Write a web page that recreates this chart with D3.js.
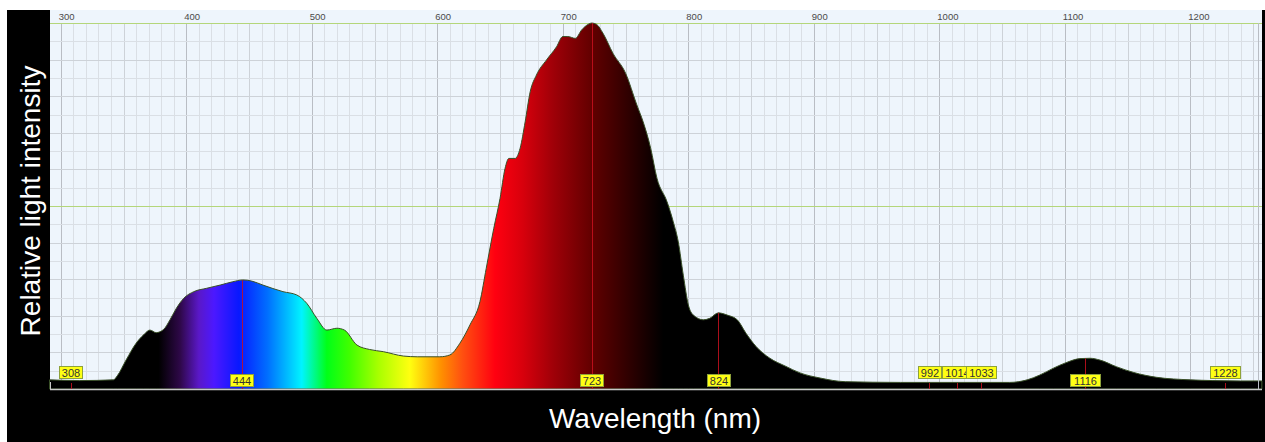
<!DOCTYPE html>
<html>
<head>
<meta charset="utf-8">
<script src="https://cdn.jsdelivr.net/npm/d3@7"></script>
<style>
  body { margin: 0; background: #fff; }
  svg { display: block; font-family: "Liberation Sans", Arial, sans-serif; }
</style>
</head>
<body>
<div id="chart"></div>
<script>
// spectrum: wavelength (nm) and relative intensity (0..1)
var wavelengths = [291, 315, 342, 345, 352, 360, 366, 371, 376, 382, 387, 392, 398, 406, 416, 427, 437, 445, 452, 461,
    477, 488, 496, 504, 512, 520, 526, 536, 546, 557, 573, 584, 602, 610, 618, 626, 634, 639, 645, 650,
    654, 657, 662, 666, 670, 674, 679, 687, 695, 700, 704, 710, 715, 720, 723, 727, 732, 740, 750, 759,
    764, 770, 775, 783, 788, 792, 796, 800, 804, 812, 817, 824, 831, 839, 846, 854, 865, 877, 889, 905,
    925, 969, 1056, 1070, 1080, 1091, 1101, 1112, 1120, 1128, 1141, 1155, 1173, 1200, 1218, 1240, 1257];
var intensity = [0.025, 0.023, 0.025, 0.036, 0.079, 0.125, 0.148, 0.161, 0.154, 0.163, 0.189, 0.220, 0.248, 0.266, 0.275, 0.284, 0.293, 0.298, 0.295, 0.284,
    0.266, 0.257, 0.234, 0.193, 0.161, 0.166, 0.161, 0.120, 0.108, 0.102, 0.090, 0.088, 0.088, 0.093, 0.125, 0.175, 0.239, 0.330, 0.439, 0.521,
    0.603, 0.630, 0.630, 0.658, 0.730, 0.812, 0.858, 0.899, 0.935, 0.963, 0.963, 0.958, 0.981, 0.996, 1.0, 0.996, 0.972, 0.917, 0.863, 0.776,
    0.730, 0.658, 0.576, 0.512, 0.457, 0.402, 0.311, 0.230, 0.202, 0.189, 0.193, 0.208, 0.202, 0.189, 0.152, 0.116, 0.084, 0.063, 0.044, 0.030,
    0.020, 0.018, 0.018, 0.025, 0.038, 0.057, 0.072, 0.083, 0.084, 0.079, 0.061, 0.045, 0.032, 0.025, 0.023, 0.022, 0.022];

var topTicks = [300, 400, 500, 600, 700, 800, 900, 1000, 1100, 1200];

// peak markers; "full" ones get a line up to the curve
var peaks = [308, 444, 723, 824, 992, 1014, 1033, 1116, 1228];
var peakFull = [false, true, true, true, false, false, false, true, false];

// colour of the fill along the wavelength
var stopNm = [378, 395, 410, 422, 442, 465, 492, 512, 530, 553, 578, 603, 620, 646, 668, 692, 724, 750, 768, 780];
var stopColor = ["#000000", "#2e0848", "#5a18c8", "#4c18ff", "#0818ff", "#0070ff", "#00f4ff", "#00ff18", "#40ff00", "#a8ff00",
    "#ffff10", "#ff9000", "#ff5010", "#ff0010", "#d8000c", "#a00008", "#600000", "#330000", "#140000", "#000000"];

var W = 1265, H = 442;
var plotLeft = 50, plotRight = 1262, plotTop = 10, plotBottom = 389;

var svg = d3.select("#chart").append("svg")
    .attr("width", W)
    .attr("height", H);

svg.append("rect").attr("width", W).attr("height", H).attr("fill", "#ffffff");
// black frame behind the plot
svg.append("rect")
    .attr("x", 7).attr("y", 10)
    .attr("width", W - 7).attr("height", H - 10)
    .attr("fill", "#000000");
svg.append("rect")
    .attr("x", plotLeft).attr("y", plotTop)
    .attr("width", plotRight - plotLeft).attr("height", plotBottom - plotTop)
    .attr("fill", "#eef5fc");

var x = d3.scaleLinear().domain([291.4, 1257.1]).range([plotLeft, plotRight]);
var y = d3.scaleLinear().domain([0, 1]).range([plotBottom, 23]);

// grid
var g = svg.append("g");
var minorX = d3.range(300, 1260, 10);
g.selectAll(".vx").data(minorX).enter().append("line")
    .attr("x1", function (d) { return Math.round(x(d)) + 0.5; })
    .attr("x2", function (d) { return Math.round(x(d)) + 0.5; })
    .attr("y1", 23).attr("y2", plotBottom)
    .attr("stroke", function (d) { return d % 100 == 0 ? "#b9bdc4" : (d % 50 == 0 ? "#cdd2d8" : "#dadfe5"); })
    .attr("stroke-width", 1);

var minorY = d3.range(0, 20).map(function (i) { return i * 0.05; });
g.selectAll(".hy").data(minorY).enter().append("line")
    .attr("x1", plotLeft).attr("x2", plotRight)
    .attr("y1", function (d) { return Math.round(y(d)) + 0.5; })
    .attr("y2", function (d) { return Math.round(y(d)) + 0.5; })
    .attr("stroke", function (d, i) { return i % 2 == 0 ? "#cdd2d8" : "#dadfe5"; });

// green reference lines at 0.5 and 1
g.selectAll(".gl").data([0.5, 1]).enter().append("line")
    .attr("x1", plotLeft).attr("x2", plotRight)
    .attr("y1", function (d) { return Math.round(y(d)) + 0.5; })
    .attr("y2", function (d) { return Math.round(y(d)) + 0.5; })
    .attr("stroke", "#b4d67a");

// top axis labels
svg.selectAll(".tt").data(topTicks).enter().append("text")
    .attr("x", function (d) { return x(d) - 2; })
    .attr("y", 20)
    .attr("font-size", 9.5)
    .attr("fill", "#4a4a4a")
    .text(function (d) { return d; });

// gradient fill of the spectrum
var grad = svg.append("defs").append("linearGradient")
    .attr("id", "spec")
    .attr("gradientUnits", "userSpaceOnUse")
    .attr("x1", x(stopNm[0])).attr("x2", x(stopNm[stopNm.length - 1]))
    .attr("y1", 0).attr("y2", 0);
var span = stopNm[stopNm.length - 1] - stopNm[0];
grad.selectAll("stop").data(stopNm).enter().append("stop")
    .attr("offset", function (d) { return (d - stopNm[0]) / span; })
    .attr("stop-color", function (d, i) { return stopColor[i]; });

var spec = wavelengths.map(function (d, i) { return { nm: d, v: intensity[i] }; });

svg.append("path")
    .datum(spec)
    .attr("fill", "url(#spec)")
    .attr("stroke", "#3a5028")
    .attr("stroke-width", 1)
    .attr("d", d3.area()
        .x(function (d) { return x(d.nm); })
        .y0(plotBottom)
        .y1(function (d) { return y(d.v); })
        .curve(d3.curveMonotoneX));

// axis frame lines
svg.append("line")
    .attr("x1", plotLeft).attr("x2", plotRight)
    .attr("y1", plotBottom + 0.5).attr("y2", plotBottom + 0.5)
    .attr("stroke", "#c8c8c8").attr("stroke-width", 1.5);
svg.append("line")
    .attr("x1", plotLeft + 0.5).attr("x2", plotLeft + 0.5)
    .attr("y1", 382).attr("y2", plotBottom + 1)
    .attr("stroke", "#c8c8c8");
svg.append("line")
    .attr("x1", 1258.5).attr("x2", 1258.5)
    .attr("y1", 23).attr("y2", plotBottom)
    .attr("stroke", "#b9bdc4");

// curve height at a wavelength, for the peak lines
var bis = d3.bisector(function (d) { return d.nm; }).left;
function valueAt(nm) {
    var i = bis(spec, nm);
    if (i <= 0) return spec[0].v;
    var a = spec[i - 1], b = spec[i];
    return a.v + (b.v - a.v) * (nm - a.nm) / (b.nm - a.nm);
}

var pk = svg.append("g");
peaks.forEach(function (p, i) {
    var px = Math.round(x(p)) + 0.5;
    pk.append("line")
        .attr("x1", px).attr("x2", px)
        .attr("y1", peakFull[i] ? y(valueAt(p)) : 383)
        .attr("y2", plotBottom)
        .attr("stroke", "#c8101e")
        .attr("stroke-opacity", 0.85);
});
peaks.forEach(function (p, i) {
    var label = String(p);
    var bw = label.length > 3 ? 30 : 23;
    var by = peakFull[i] ? 374 : 366;
    var lab = pk.append("g").attr("transform", "translate(" + Math.round(x(p) - bw / 2) + "," + by + ")");
    lab.append("rect")
        .attr("x", 0.5).attr("y", 0.5)
        .attr("width", bw).attr("height", 12)
        .attr("fill", "#ffff14")
        .attr("stroke", "#8ea23a");
    lab.append("text")
        .attr("x", bw / 2 + 0.5).attr("y", 10.5)
        .attr("text-anchor", "middle")
        .attr("font-size", 11)
        .attr("fill", "#333")
        .text(label);
});

// axis titles
svg.append("text")
    .attr("transform", "translate(40,201) rotate(-90)")
    .attr("text-anchor", "middle")
    .attr("font-size", 28)
    .attr("fill", "#ffffff")
    .text("Relative light intensity");

svg.append("text")
    .attr("x", 655).attr("y", 428)
    .attr("text-anchor", "middle")
    .attr("font-size", 28)
    .attr("fill", "#ffffff")
    .text("Wavelength (nm)");
</script>
</body>
</html>
